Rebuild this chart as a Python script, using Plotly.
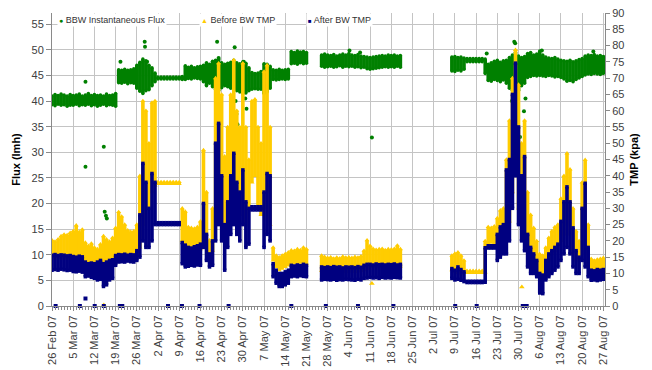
import plotly.graph_objects as go
import pandas as pd

START = pd.Timestamp("2007-02-26")
N = None

# ---- daily values (day 0 = 26 Feb 07) : low / high of the scatter band ----
flux_lo = [
 39.3,39.1,39.4,39.2,39.3,39.0,39.2, 39.2,39.4,39.1,39.3,39.2,39.4,39.1,
 39.3,39.0,39.2,39.4,39.1,39.3,39.2, 39.0,43.6,43.5,43.7,43.4,43.6,43.5,
 42.5,41.9,41.5,42.0,42.2,43.0,43.8, 44.3,44.3,44.3,44.3,44.3,44.3,44.3,
 44.3,44.2,44.2,44.4,44.3,44.5,44.4, 44.3,43.8,43.0,43.5,42.8,42.2,42.0,
 42.6,43.0,42.8,42.5,42.2,42.0,41.8, 41.5,41.6,42.0,42.3,42.4,42.3,42.3,
 41.5,41.8,42.5,44.2,44.1,44.2,44.3, 44.2,44.3,47.3,47.4,47.2,47.5,47.3,
 47.4,N,N,N,N,46.8,46.6, 46.7,46.8,46.6,46.7,46.9,46.6,46.8,
 46.7,46.8,46.6,46.7,46.5,46.6,46.3, 46.2,46.3,46.4,46.5,46.6,46.7,46.6,
 46.7,46.6,46.8,46.6,N,N,N, N,N,N,N,N,N,N,
 N,N,N,N,N,N,45.9, 45.8,46.0,45.9,46.2,47.7,47.7,47.7,
 47.7,47.7,47.7,45.4,44.0,43.9,44.2, 44.0,43.8,44.1,43.5,42.5,42.0,41.5,
 42.0,43.0,43.5,44.6,44.8,45.0,44.9, 45.0,44.9,44.8,45.0,44.9,44.7,44.8,
 44.6,44.3,43.9,44.0,43.8,44.2,44.5, 44.8,45.1,45.3,45.2,45.4,45.3,45.2,
 45.4]
flux_hi = [
 41.0,41.3,41.1,41.4,41.2,41.0,41.3, 41.1,41.2,41.4,41.0,41.2,41.5,41.1,
 41.3,41.1,41.2,41.0,41.4,41.1,41.2, 41.5,46.1,46.0,46.2,46.0,46.1,46.3,
 47.0,47.6,48.2,47.9,47.0,46.5,45.5, 44.7,44.7,44.7,44.7,44.7,44.7,44.7,
 44.7,44.8,46.9,46.6,46.8,46.5,46.7, 46.8,47.0,47.5,47.2,47.8,48.0,48.2,
 47.5,47.2,47.4,47.6,48.0,47.5,47.3, 47.7,47.4,46.5,45.6,45.4,45.5,45.8,
 47.3,47.2,46.8,46.1,46.0,46.2,46.0, 46.1,46.2,49.7,49.5,49.8,49.6,49.7,
 49.5,N,N,N,N,49.0,49.2, 49.0,48.9,49.1,48.8,49.0,49.2,49.0,
 49.3,49.0,48.9,49.1,48.8,48.7,48.6, 48.5,48.6,48.7,48.8,48.9,48.8,49.0,
 48.9,49.0,48.8,48.9,N,N,N, N,N,N,N,N,N,N,
 N,N,N,N,N,N,48.6, 48.7,48.5,48.6,48.4,48.3,48.3,48.3,
 48.3,48.3,48.3,48.2,47.2,47.5,47.8, 48.0,47.6,47.9,48.0,48.5,49.0,49.5,
 48.8,48.5,48.7,49.3,49.5,49.0,49.2, 49.8,49.0,48.6,48.4,48.3,48.5,48.2,
 48.0,47.9,47.8,48.0,47.7,47.9,48.1, 48.3,48.8,49.0,48.9,49.1,48.8,48.9,
 48.7]

before_lo = [
 15.1,15.0,15.3,14.8,14.6,14.9,14.7, 14.6,14.5,14.8,14.2,12.5,12.0,12.4,
 12.2,12.5,12.8,12.0,12.6,13.0,13.5, 14.0,15.0,15.5,15.2,15.1,15.3,15.0,
 15.5,18.0,25.0,30.0,30.0,35.0,37.0, 37.5,37.5,37.5,37.5,37.5,37.5,37.5,
 37.5,20.0,17.5,17.1,17.3,17.0,17.2, 17.5,25.0,20.0,16.1,17.0,30.0,40.0,
 35.0,24.0,30.0,35.0,40.0,30.0,28.0, 35.0,25.0,30.0,38.0,40.0,30.0,28.0,
 30.0,35.0,25.0,14.0,12.0,11.0,11.5, 12.0,12.5,13.0,13.2,13.0,13.3,13.1,
 13.0,N,N,N,N,10.8,10.5, 10.6,10.5,10.7,10.4,10.6,10.8,10.5,
 10.6,10.7,10.5,10.6,10.8,11.0,11.5, 12.0,12.2,12.0,12.3,12.1,12.4,12.2,
 12.3,12.1,12.0,12.2,N,N,N, N,N,N,N,N,N,N,
 N,N,N,N,N,N,11.0, 10.5,10.2,10.0,10.2,10.2,10.2,10.2,
 10.2,10.2,10.2,10.3,19.2,19.5,19.2, 19.2,20.0,21.0,24.0,26.0,35.0,45.0,
 30.0,25.0,25.0,20.0,16.0,14.0,13.0, 9.0,8.0,12.0,14.0,16.0,17.0,18.0,
 20.0,22.0,25.0,22.0,16.0,14.0,14.0, 18.0,16.0,12.0,10.0,10.2,10.0,10.1,
 10.2]
before_hi = [
 20.2,19.8,20.5,21.5,22.0,21.8,22.5, 23.0,24.8,22.8,23.5,19.5,18.5,19.2,
 18.0,17.5,19.0,21.5,20.5,19.8,21.0, 24.0,28.9,27.5,25.0,23.3,22.8,23.0,
 25.0,40.0,63.0,60.0,50.0,62.5,63.0, 38.1,38.1,38.1,38.1,38.1,38.1,38.1,
 38.1,30.0,29.0,24.3,24.0,23.8,24.3, 26.0,47.9,35.0,20.2,30.0,70.0,74.6,
 65.0,46.0,55.0,65.0,75.6,60.0,55.0, 74.6,55.0,45.0,63.0,63.5,55.0,50.0,
 72.0,74.0,55.0,18.0,15.5,15.0,15.5, 16.0,16.5,17.1,17.0,17.5,17.2,18.0,
 17.5,N,N,N,N,15.5,15.1, 14.8,15.0,14.6,14.9,14.7,15.2,14.9,
 15.0,14.8,15.1,14.9,15.3,17.0,20.2, 18.5,17.6,17.3,17.5,17.6,17.2,17.5,
 17.4,17.6,18.6,17.5,N,N,N, N,N,N,N,N,N,N,
 N,N,N,N,N,N,15.5, 16.1,16.5,15.5,14.0,10.8,10.8,10.8,
 10.8,10.8,10.8,20.0,24.3,24.0,24.5, 27.0,29.4,30.0,45.0,57.0,70.0,78.7,
 68.0,50.0,57.0,35.0,28.0,24.0,20.0, 16.0,15.5,18.0,21.0,23.0,24.3,25.0,
 33.0,40.0,46.9,42.0,30.0,23.0,20.0, 38.0,44.9,25.0,14.5,14.0,14.3,14.5,
 14.8]

after_lo = [
 11.0,11.2,11.0,11.3,11.1,10.9,11.0, 10.6,10.5,10.7,10.4,9.0,9.2,8.8,
 8.5,8.0,8.2,6.0,6.5,8.0,8.5, 12.5,13.5,13.6,13.5,13.8,13.6,13.5,
 14.0,15.0,20.0,18.0,18.0,20.0,25.0, 25.0,25.0,25.0,25.0,25.0,25.0,25.0,
 25.0,13.0,12.0,12.2,12.5,12.3,12.6, 12.5,18.0,14.0,12.0,12.5,20.0,25.0,
 20.0,11.0,18.0,22.0,25.0,22.0,20.0, 25.0,18.0,19.0,29.5,29.5,29.5,29.5,
 18.0,22.0,20.0,9.0,7.0,6.0,6.0, 6.5,7.0,9.0,9.2,9.0,9.3,9.1,
 9.0,N,N,N,N,8.0,8.2, 8.1,8.0,8.2,7.9,8.1,8.0,8.2,
 8.1,8.0,7.9,8.2,8.0,8.5,8.6, 8.8,8.6,8.7,8.5,8.8,8.6,8.7,
 8.6,8.8,8.7,8.6,N,N,N, N,N,N,N,N,N,N,
 N,N,N,N,N,N,8.5, 8.0,8.2,7.9,7.5,7.2,7.2,7.2,
 7.2,7.2,7.2,7.3,17.8,17.8,17.8, 14.0,15.0,16.0,16.0,20.0,30.0,40.0,
 25.0,20.0,17.0,12.0,10.0,10.0,9.0, 4.0,3.8,8.0,9.0,10.0,11.0,12.0,
 14.0,16.0,18.0,16.0,12.0,10.0,10.0, 14.0,12.0,9.0,7.9,8.0,7.8,8.0,
 8.2]
after_hi = [
 15.6,15.8,15.5,15.7,15.6,15.4,15.5, 15.2,15.0,15.3,15.1,13.5,13.0,13.2,
 13.0,13.5,14.0,13.0,13.5,14.0,14.2, 15.5,15.8,15.7,15.9,15.6,15.8,15.7,
 17.0,28.0,43.8,38.0,30.0,40.7,38.0, 25.6,25.6,25.6,25.6,25.6,25.6,25.6,
 25.6,19.5,18.7,18.0,17.8,18.2,18.5, 19.0,31.5,22.0,16.0,20.0,50.0,56.1,
 40.0,25.0,32.0,40.0,46.9,38.0,35.0, 41.8,32.0,30.0,30.5,30.5,30.5,30.5,
 35.0,40.7,40.0,13.0,11.0,10.0,10.0, 10.5,11.0,12.5,12.3,12.6,12.4,12.8,
 12.5,N,N,N,N,12.0,11.8, 12.0,11.8,12.1,11.9,12.0,11.7,12.0,
 11.9,12.0,11.8,12.1,11.9,12.5,12.8, 12.8,12.6,12.9,12.7,12.8,12.6,12.8,
 12.7,12.9,12.6,12.8,N,N,N, N,N,N,N,N,N,N,
 N,N,N,N,N,N,11.5, 11.0,12.0,11.2,10.5,7.6,7.6,7.6,
 7.6,7.6,7.6,17.9,18.5,18.5,18.5, 22.0,24.3,25.0,41.8,45.0,65.0,74.6,
 55.0,40.0,45.9,22.0,18.0,16.0,14.0, 10.0,9.5,14.0,16.0,17.0,18.0,19.0,
 26.0,32.0,36.6,32.0,24.0,17.0,15.0, 30.0,37.7,18.0,11.0,10.8,11.2,11.0,
 11.2]

# isolated points (day offset, value)
flux_out_day = [11.05, 11.05, 17.1, 17.4, 17.8, 18.1, 22.6, 30.6, 30.7, 31.4,
                54.5, 55.0, 54.6, 54.8, 55.2, 55.4, 55.6, 60.3, 60.6, 60.9,
                61.2, 61.4, 63.3, 63.8, 64.2, 98.2, 101.7, 105.6, 143.5, 152.6,
                152.9, 151.8, 152.2, 152.8, 154.5, 155.8, 156.3, 161.7, 178.7]
flux_out_val = [43.8, 27.2, 31.1, 18.4, 17.6, 17.1, 47.7, 51.6, 50.6, 47.7,
                51.6, 48.4, 40.5, 38.0, 36.0, 34.0, 32.5, 50.5, 40.0, 37.5,
                35.5, 34.4, 47.7, 40.5, 38.5, 49.9, 49.5, 32.9, 49.3, 51.6,
                51.3, 40.0, 37.0, 35.0, 33.0, 38.0, 40.5, 49.9, 49.7]
before_out_day = [17.1, 105.6, 155.1]
before_out_val = [0.3, 6.9, 5.8]
after_out_day = [1.2, 9.2, 11.05, 14.1, 17.1, 22.4, 23.2, 38.3, 42.9, 48.7, 58.3,
                 79.0, 90.4, 101.0, 112.7, 133.1, 140.2, 155.4, 156.0, 156.7]
after_out_val = [0, 0, 2.3, 0, 0, 0, 0, 0, 0, 0, 0, 0, 0, 0, 0, 0, 0, 0, 0, 0]

names = ["BBW Instantaneous Flux", "Before BW TMP", "After BW TMP"]
colors = ["#008000", "#FFCC00", "#000080"]
symbols = ["circle", "triangle-up", "square"]


def to_date(d):
    return (START + pd.Timedelta(days=d)).strftime("%Y-%m-%d %H:%M")


def columns(lo, hi):
    xs, ys = [], []
    for d, (a, b) in enumerate(zip(lo, hi)):
        if a is None or b is None:
            continue
        t = to_date(d)
        xs += [t, t, None]
        ys += [a, b, None]
    return xs, ys


fig = go.Figure()
series = [(flux_lo, flux_hi, flux_out_day, flux_out_val, "y"),
          (before_lo, before_hi, before_out_day, before_out_val, "y2"),
          (after_lo, after_hi, after_out_day, after_out_val, "y2")]
for i, (lo, hi, od, ov, ax) in enumerate(series):
    xs, ys = columns(lo, hi)
    msize = 4.5 if symbols[i] == "triangle-up" else 3.5
    fig.add_trace(go.Scatter(
        x=xs, y=ys, yaxis=ax, mode="lines+markers", name=names[i],
        line=dict(color=colors[i], width=3.6),
        marker=dict(color=colors[i], symbol=symbols[i], size=msize),
        showlegend=False, hoverinfo="skip"))
    fig.add_trace(go.Scatter(
        x=[to_date(d) for d in od], y=ov, yaxis=ax, mode="markers",
        marker=dict(color=colors[i], symbol=symbols[i], size=msize + 0.5),
        showlegend=False, cliponaxis=False, hoverinfo="skip"))

FONT = "Liberation Sans, Arial, sans-serif"
grid = "#c4c4c4"
axcol = "#8a8a8a"

fig.update_layout(
    width=652, height=370,
    margin=dict(l=52, r=47, t=13, b=64, autoexpand=False),
    paper_bgcolor="white", plot_bgcolor="white",
    font=dict(family=FONT, size=11, color="#404040"),
    showlegend=False,
    xaxis=dict(
        type="date",
        range=[to_date(0), to_date(182.55)],
        tick0=to_date(0), dtick=7 * 86400000,
        tickformat="%-d %b %y", tickangle=-90,
        showgrid=True, gridcolor=grid, gridwidth=1,
        showline=True, linecolor=axcol, linewidth=1,
        ticks="outside", ticklen=4, tickcolor=axcol,
        minor=dict(dtick=86400000, ticks="outside", ticklen=3,
                   tickcolor=axcol, showgrid=False),
        tickfont=dict(size=11, color="#404040"),
        zeroline=False, automargin=False,
    ),
    yaxis=dict(
        range=[0, 57.2], tick0=0, dtick=5,
        showgrid=True, gridcolor=grid, gridwidth=1,
        showline=True, linecolor=axcol, linewidth=1,
        ticks="outside", ticklen=5, tickcolor=axcol,
        zeroline=False, automargin=False,
        tickfont=dict(size=11, color="#404040"),
        title=dict(text="<b>Flux (lmh)</b>", standoff=8,
                   font=dict(size=11, color="#000000")),
    ),
    yaxis2=dict(
        range=[0, 90], tick0=0, dtick=5, overlaying="y", side="right",
        showgrid=False, showline=True, linecolor=axcol, linewidth=1,
        ticks="outside", ticklen=4, tickcolor=axcol,
        zeroline=False, automargin=False,
        tickfont=dict(size=11, color="#404040"),
        title=dict(text="<b>TMP (kpa)</b>", standoff=6,
                   font=dict(size=11, color="#000000")),
    ),
)

# legend entries (white boxes along the top of the plot)
glyphs = ["●", "▲", "■"]
glyph_size = [7, 7, 6]
leg_x = [0.009, 0.266, 0.46]
for i in range(3):
    fig.add_annotation(
        xref="paper", yref="paper", x=leg_x[i], y=0.976,
        xanchor="left", yanchor="middle", showarrow=False,
        text=(f'<span style="color:{colors[i]};font-size:{glyph_size[i]}px">'
              f'{glyphs[i]}</span> {names[i]}'),
        font=dict(family=FONT, size=9, color="#333333"),
        bgcolor="white", borderpad=1,
    )

fig.write_html("out.html")
